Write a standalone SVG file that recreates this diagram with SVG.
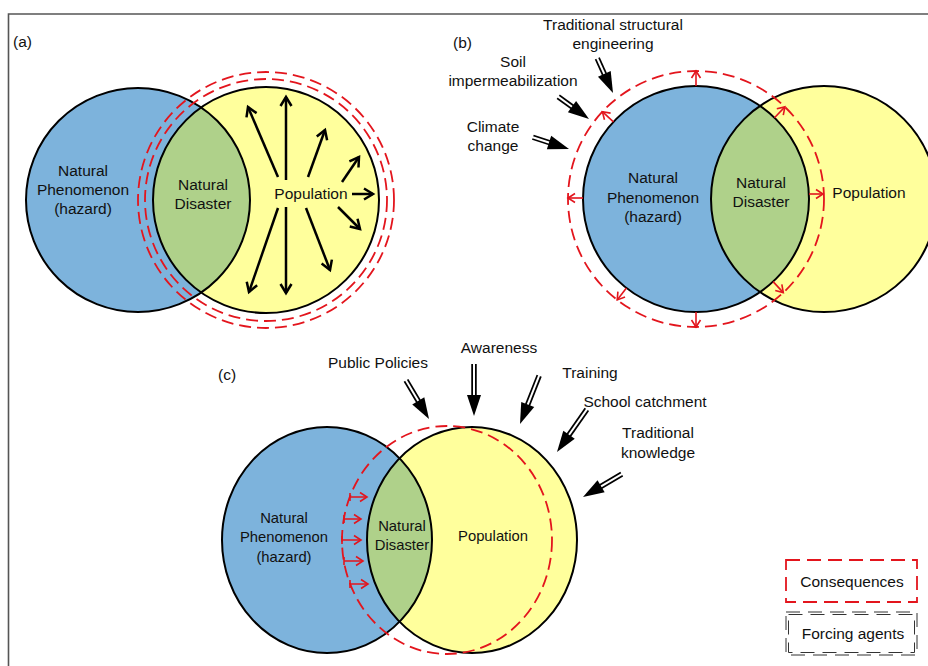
<svg xmlns="http://www.w3.org/2000/svg" xmlns:xlink="http://www.w3.org/1999/xlink" width="928" height="666" viewBox="0 0 928 666">
<style>
text{font-family:"Liberation Sans",Arial,sans-serif;font-size:15.5px;fill:#111;text-anchor:middle}
.sm{font-size:14.8px}
.lbl{text-anchor:start}
.blue{fill:#7DB3DC}
.yel{fill:#FFFF9C}
.grn{fill:#AFD18A}
.ol{fill:none;stroke:#000;stroke-width:2}
.rd{fill:none;stroke:#E3151D;stroke-width:1.8;stroke-dasharray:12 6}
.ra{fill:none;stroke:#E3151D;stroke-width:1.6;marker-end:url(#rh)}
.ba{fill:none;stroke:#000;stroke-width:2.5;marker-end:url(#bh)}
.fsb{stroke:#000;stroke-width:5.5;fill:none}
.fsw{stroke:#fff;stroke-width:2;fill:none}
</style>
<defs>
<marker id="rh" markerUnits="userSpaceOnUse" markerWidth="12" markerHeight="12" refX="8" refY="6" orient="auto" overflow="visible">
<path d="M1,1.5 L8,6 L1,10.5" fill="none" stroke="#E3151D" stroke-width="1.6"/>
</marker>
<marker id="bh" markerUnits="userSpaceOnUse" markerWidth="14" markerHeight="14" refX="10" refY="7" orient="auto" overflow="visible">
<path d="M1,1.5 L10,7 L1,12.5" fill="none" stroke="#000" stroke-width="2.5"/>
</marker>
<g id="fa38"><line class="fsb" x1="-38" y1="0" x2="-17" y2="0"/><line class="fsw" x1="-39" y1="0" x2="-18" y2="0"/><polygon points="0,0 -21,-7 -21,7" fill="#000"/></g>
<g id="fa45"><line class="fsb" x1="-45" y1="0" x2="-17" y2="0"/><line class="fsw" x1="-46" y1="0" x2="-18" y2="0"/><polygon points="0,0 -21,-7 -21,7" fill="#000"/></g>
<g id="fa52"><line class="fsb" x1="-52" y1="0" x2="-17" y2="0"/><line class="fsw" x1="-53" y1="0" x2="-18" y2="0"/><polygon points="0,0 -21,-7 -21,7" fill="#000"/></g>
<clipPath id="ca"><circle cx="138" cy="200" r="112"/></clipPath>
<clipPath id="cb"><circle cx="696" cy="199" r="113"/></clipPath>
<clipPath id="cc"><ellipse cx="327" cy="540" rx="105" ry="113"/></clipPath>
</defs>
<rect width="928" height="666" fill="#fff"/>
<g id="frame"><path d="M8.5,666 V14 H928" fill="none" stroke="#555" stroke-width="1.6"/></g>

<!-- Panel (a) -->
<g id="panel-a">
<text class="lbl" x="13" y="47">(a)</text>
<g id="a-hazard"><circle class="blue" cx="138" cy="200" r="112"/></g>
<g id="a-population"><circle class="yel" cx="266" cy="200" r="113"/></g>
<g id="a-disaster"><circle class="grn" cx="266" cy="200" r="113" clip-path="url(#ca)"/></g>
<circle class="ol" cx="138" cy="200" r="112"/>
<circle class="ol" cx="266" cy="200" r="113"/>
<g id="a-consequences"><circle class="rd" cx="266" cy="200" r="121"/><circle class="rd" cx="266" cy="200" r="128"/></g>
<text x="83" y="176">Natural</text><text x="83" y="195">Phenomenon</text><text x="83" y="214">(hazard)</text>
<text x="203" y="190">Natural</text><text x="203" y="209">Disaster</text>
<text x="311" y="199">Population</text>
</g>
<g id="connectors-a">
<line class="ba" x1="286" y1="180" x2="286" y2="97"/>
<line class="ba" x1="278" y1="177" x2="248" y2="107"/>
<line class="ba" x1="308" y1="177" x2="325" y2="130"/>
<line class="ba" x1="342" y1="182" x2="359" y2="157"/>
<line class="ba" x1="352" y1="194" x2="373" y2="194"/>
<line class="ba" x1="338" y1="207" x2="360" y2="229"/>
<line class="ba" x1="306" y1="208" x2="330" y2="270"/>
<line class="ba" x1="278" y1="208" x2="249" y2="292"/>
<line class="ba" x1="286" y1="207" x2="286" y2="293"/>
</g>

<!-- Panel (b) -->
<g id="panel-b">
<text class="lbl" x="453" y="48">(b)</text>
<g id="b-population"><circle class="yel" cx="824" cy="199" r="113"/></g>
<g id="b-hazard"><circle class="blue" cx="696" cy="199" r="113"/></g>
<g id="b-disaster"><circle class="grn" cx="824" cy="199" r="113" clip-path="url(#cb)"/></g>
<circle class="ol" cx="824" cy="199" r="113"/>
<circle class="ol" cx="696" cy="199" r="113"/>
<g id="b-consequences"><circle class="rd" cx="696" cy="199" r="128"/></g>
<text x="653" y="183">Natural</text><text x="653" y="203">Phenomenon</text><text x="653" y="222">(hazard)</text>
<text x="761" y="188">Natural</text><text x="761" y="207">Disaster</text>
<text x="869" y="198">Population</text>
<g id="b-agent-tse"><text x="613" y="30">Traditional structural</text><text x="613" y="49">engineering</text></g>
<g id="b-agent-soil"><text x="513" y="67">Soil</text><text x="513" y="86">impermeabilization</text></g>
<g id="b-agent-climate"><text x="493" y="132">Climate</text><text x="493" y="151">change</text></g>
</g>
<g id="connectors-b">
<line class="ra" x1="696" y1="86" x2="696" y2="71"/>
<line class="ra" x1="613.4" y1="121.9" x2="602.4" y2="111.7"/>
<line class="ra" x1="583" y1="198" x2="568" y2="198"/>
<line class="ra" x1="626.4" y1="288" x2="617.2" y2="299.9"/>
<line class="ra" x1="696" y1="312" x2="696" y2="327"/>
<line class="ra" x1="773.1" y1="281.6" x2="783.3" y2="292.6"/>
<line class="ra" x1="809" y1="194" x2="823" y2="194"/>
<line class="ra" x1="774.5" y1="117.7" x2="784.9" y2="106.9"/>
<use xlink:href="#fa38" transform="translate(613,93) rotate(65.6)"/>
<use xlink:href="#fa38" transform="translate(589,119) rotate(35.9)"/>
<use xlink:href="#fa38" transform="translate(569,149) rotate(18)"/>
</g>

<!-- Panel (c) -->
<g id="panel-c">
<text class="lbl" x="218" y="380">(c)</text>
<g id="c-hazard"><ellipse class="blue" cx="327" cy="540" rx="105" ry="113"/></g>
<g id="c-population"><ellipse class="yel" cx="472" cy="540" rx="105" ry="113"/></g>
<g id="c-disaster"><ellipse class="grn" cx="472" cy="540" rx="105" ry="113" clip-path="url(#cc)"/></g>
<ellipse class="ol" cx="327" cy="540" rx="105" ry="113"/>
<ellipse class="ol" cx="472" cy="540" rx="105" ry="113"/>
<g id="c-consequences"><ellipse class="rd" cx="447" cy="540" rx="105" ry="114"/></g>
<text class="sm" x="284" y="523">Natural</text><text class="sm" x="284" y="542">Phenomenon</text><text class="sm" x="284" y="562">(hazard)</text>
<text class="sm" x="402" y="531">Natural</text><text class="sm" x="402" y="550">Disaster</text>
<text class="sm" x="493" y="541">Population</text>
<g id="c-agent-pp"><text x="378" y="368">Public Policies</text></g>
<g id="c-agent-aw"><text x="499" y="353">Awareness</text></g>
<g id="c-agent-tr"><text x="590" y="378">Training</text></g>
<g id="c-agent-sc"><text x="645" y="407">School catchment</text></g>
<g id="c-agent-tk"><text x="658" y="438">Traditional</text><text x="658" y="458">knowledge</text></g>
</g>
<g id="connectors-c">
<path class="ra" d="M350,493 V501 M350,497 H367"/>
<path class="ra" d="M344,515 V523 M344,519 H361"/>
<path class="ra" d="M342,536 V544 M342,540 H361"/>
<path class="ra" d="M344,557 V565 M344,561 H363"/>
<path class="ra" d="M350,580 V588 M350,584 H368"/>
<use xlink:href="#fa45" transform="translate(429,419) rotate(59.3)"/>
<use xlink:href="#fa52" transform="translate(474,416) rotate(90)"/>
<use xlink:href="#fa52" transform="translate(520,424) rotate(111.6)"/>
<use xlink:href="#fa52" transform="translate(557,452) rotate(125)"/>
<use xlink:href="#fa45" transform="translate(583,497) rotate(149.5)"/>
</g>

<!-- Legend -->
<g id="legend-consequences">
<rect x="786" y="560" width="131" height="42" fill="none" stroke="#E3151D" stroke-width="1.8" stroke-dasharray="14 7"/>
<text x="852" y="587">Consequences</text>
</g>
<g id="legend-forcing">
<rect x="786" y="612" width="131" height="43" fill="none" stroke="#333" stroke-width="1" stroke-dasharray="14 8"/>
<rect x="788.5" y="614.5" width="126" height="38" fill="none" stroke="#333" stroke-width="1" stroke-dasharray="14 8"/>
<text x="853" y="639">Forcing agents</text>
</g>
</svg>
